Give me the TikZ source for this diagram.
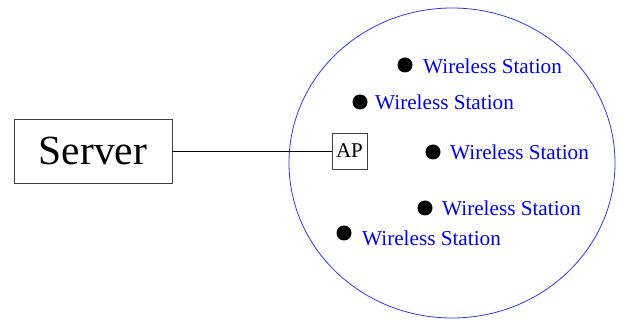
\documentclass[tikz,border=0pt]{standalone}
\usepackage{fontspec}
\setmainfont{Liberation Serif}
\begin{document}
\begin{tikzpicture}[x=1pt,y=-1pt,
  box/.style={draw=black!75, line width=0.8pt, inner sep=0pt},
  dot/.style={circle, fill=black, inner sep=0pt, minimum size=15pt},
  lbl/.style={text=blue, font=\fontsize{21.2}{23}\selectfont, anchor=west, inner sep=0pt}]
\useasboundingbox (0,0) rectangle (619,320);
\draw[blue!80, line width=0.8pt] (452,163) ellipse [x radius=163, y radius=155];
\node[box, minimum width=158pt, minimum height=64pt, font=\fontsize{41.5}{44}\selectfont] (srv) at (93,151) {Server};
\node[box, minimum width=35pt, minimum height=36pt, font=\fontsize{21}{23}\selectfont] (ap) at (349.5,151) {AP};
\draw[line width=0.8pt] (srv.east) -- (ap.west);
\node[dot] (d1) at (405,65) {};
\node[lbl] (l1) at (423,66) {Wireless Station};
\node[dot] (d2) at (360,102) {};
\node[lbl] (l2) at (375,102) {Wireless Station};
\node[dot] (d3) at (433,152) {};
\node[lbl] (l3) at (450,152) {Wireless Station};
\node[dot] (d4) at (425,208) {};
\node[lbl] (l4) at (442,208) {Wireless Station};
\node[dot] (d5) at (344,233) {};
\node[lbl] (l5) at (362,238) {Wireless Station};
\end{tikzpicture}
\end{document}
